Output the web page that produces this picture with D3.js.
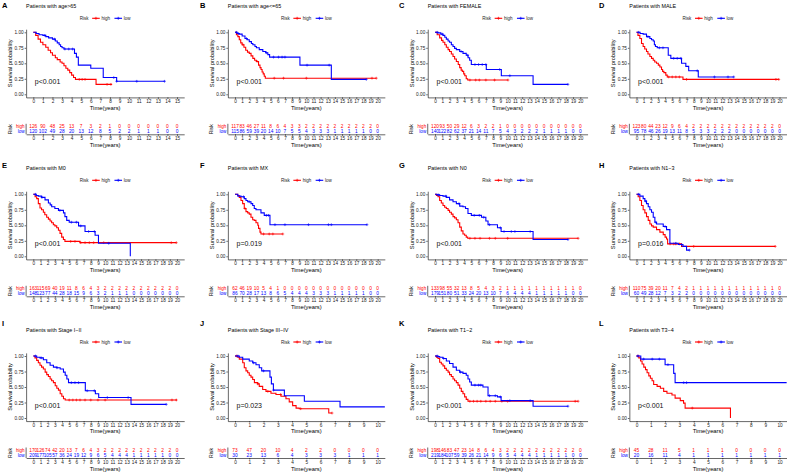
<!DOCTYPE html>
<html>
<head>
<meta charset="utf-8">
<script src="https://cdn.jsdelivr.net/npm/d3@7"></script>
<style>
  body { margin: 0; background: #fff; }
  svg { display: block; font-family: "Liberation Sans", Arial, sans-serif; }
</style>
</head>
<body>
<div id="chart"></div>
<script>
// panel labels
var panelLetters = ["A", "B", "C", "D", "E", "F", "G", "H", "I", "J", "K", "L"];
var panelTitles = ["Patients with age>65", "Patients with age<=65", "Patients with FEMALE", "Patients with MALE",
                   "Patients with M0", "Patients with MX", "Patients with N0", "Patients with N1\u22123",
                   "Patients with Stage I\u2212II", "Patients with Stage III\u2212IV", "Patients with T1\u22122", "Patients with T3\u22124"];
var pValues = ["p<0.001", "p<0.001", "p<0.001", "p<0.001", "p<0.001", "p=0.019",
               "p<0.001", "p=0.016", "p<0.001", "p=0.023", "p<0.001", "p<0.001"];
var maxYears = [15, 20, 20, 20, 20, 20, 20, 20, 20, 10, 20, 10];
var yTicks = [0, 0.25, 0.5, 0.75, 1];

// survival curves, [time, probability] steps, last point = end of follow-up
var highCurves = [
  [[0,1],[0.25,0.95],[0.5,0.89],[0.75,0.84],[1,0.8],[1.3,0.76],[1.55,0.71],[1.8,0.67],[2,0.63],[2.3,0.59],[2.5,0.56],[2.8,0.52],[3,0.5],[3.2,0.46],[3.4,0.42],[3.6,0.39],[3.8,0.35],[4,0.31],[4.2,0.27],[4.4,0.24],[6.55,0.16],[8.2,0.16]],
  [[0,1],[0.2,0.96],[0.4,0.93],[0.6,0.88],[0.8,0.83],[1,0.8],[1.25,0.76],[1.5,0.71],[1.75,0.68],[2,0.66],[2.25,0.62],[2.5,0.58],[2.75,0.55],[3,0.53],[3.3,0.47],[3.5,0.43],[3.65,0.4],[3.8,0.36],[3.95,0.33],[4.1,0.29],[4.25,0.26],[19.8,0.26]],
  [[0,1],[0.3,0.96],[0.64,0.91],[0.9,0.87],[1.1,0.84],[1.35,0.8],[1.56,0.76],[1.8,0.72],[2,0.69],[2.25,0.65],[2.48,0.61],[2.7,0.57],[2.94,0.53],[3.2,0.48],[3.4,0.43],[3.6,0.39],[3.76,0.37],[3.95,0.33],[4.1,0.3],[4.3,0.25],[4.5,0.23],[10.05,0.23]],
  [[0,1],[0.2,0.95],[0.47,0.9],[0.7,0.82],[0.93,0.77],[1.15,0.73],[1.4,0.69],[1.6,0.65],[1.87,0.61],[2.1,0.58],[2.34,0.55],[2.55,0.52],[2.8,0.5],[3.05,0.47],[3.27,0.44],[3.5,0.4],[3.65,0.37],[3.83,0.35],[4.1,0.31],[4.3,0.28],[6.5,0.24],[19.9,0.24]],
  [[0,1],[0.25,0.96],[0.47,0.93],[0.7,0.85],[0.93,0.78],[1.15,0.75],[1.4,0.71],[1.6,0.67],[1.86,0.63],[2.1,0.6],[2.33,0.57],[2.55,0.54],[2.79,0.51],[3,0.49],[3.26,0.46],[3.5,0.42],[3.72,0.37],[3.95,0.31],[4.19,0.27],[4.4,0.24],[6.5,0.22],[19.9,0.22]],
  [[0,1],[0.37,0.98],[0.6,0.95],[0.84,0.9],[1.07,0.85],[1.3,0.77],[1.54,0.72],[1.78,0.7],[2,0.68],[2.24,0.63],[2.48,0.59],[2.7,0.58],[2.94,0.54],[3.2,0.5],[3.3,0.45],[3.5,0.39],[3.64,0.36],[6.7,0.36]],
  [[0,1],[0.2,0.98],[0.41,0.96],[0.64,0.9],[0.87,0.86],[1.1,0.82],[1.33,0.79],[1.56,0.77],[1.8,0.74],[2,0.71],[2.25,0.68],[2.48,0.64],[2.7,0.62],[2.94,0.59],[3.17,0.54],[3.4,0.47],[3.62,0.41],[3.85,0.36],[4.08,0.34],[4.3,0.31],[4.5,0.29],[19.7,0.29]],
  [[0,1],[0.23,0.96],[0.47,0.9],[0.7,0.82],[0.93,0.75],[1.17,0.7],[1.4,0.64],[1.64,0.58],[1.87,0.52],[2.1,0.49],[2.34,0.47],[2.8,0.43],[3.27,0.39],[3.74,0.35],[4,0.31],[4.2,0.28],[4.35,0.2],[6.3,0.16],[19.4,0.16]],
  [[0,1],[0.23,0.97],[0.47,0.93],[0.7,0.89],[0.93,0.85],[1.15,0.82],[1.4,0.79],[1.65,0.74],[1.87,0.7],[2.1,0.67],[2.34,0.63],[2.55,0.6],[2.8,0.57],[3.05,0.52],[3.27,0.48],[3.5,0.45],[3.74,0.39],[3.97,0.35],[4.2,0.31],[4.44,0.29],[20,0.29]],
  [[0,1],[0.19,0.98],[0.3,0.95],[0.54,0.89],[0.65,0.81],[0.77,0.76],[0.89,0.73],[1,0.69],[1.12,0.66],[1.24,0.62],[1.36,0.57],[1.59,0.55],[1.7,0.51],[1.94,0.46],[2.17,0.43],[2.52,0.4],[2.87,0.38],[3.22,0.35],[3.57,0.31],[3.8,0.26],[4.04,0.2],[4.28,0.16],[4.5,0.15],[6.57,0.08],[6.8,0.08]],
  [[0,1],[0.2,0.98],[0.41,0.96],[0.64,0.9],[0.87,0.87],[1.1,0.84],[1.33,0.8],[1.56,0.77],[1.8,0.74],[2,0.7],[2.25,0.67],[2.48,0.63],[2.7,0.6],[2.94,0.57],[3.17,0.53],[3.4,0.48],[3.62,0.43],[3.85,0.39],[4.08,0.34],[4.3,0.3],[4.54,0.27],[19.7,0.27]],
  [[0,1],[0.16,0.97],[0.28,0.92],[0.39,0.87],[0.51,0.82],[0.63,0.78],[0.74,0.73],[0.86,0.68],[0.97,0.64],[1.09,0.6],[1.2,0.54],[1.44,0.51],[1.67,0.48],[1.9,0.43],[2.13,0.4],[2.48,0.37],[2.7,0.32],[3.06,0.28],[3.29,0.24],[3.4,0.16],[6.57,0]]
];
var lowCurves = [
  [[0,1],[0.3,0.98],[0.6,0.96],[1,0.95],[1.3,0.93],[1.6,0.91],[2,0.89],[2.3,0.86],[2.5,0.83],[2.7,0.8],[2.85,0.77],[3,0.75],[3.2,0.73],[4.3,0.66],[4.5,0.6],[4.7,0.47],[6,0.42],[7.3,0.27],[8.7,0.21],[13.7,0.21]],
  [[0,1],[0.3,0.98],[0.6,0.97],[1,0.94],[1.4,0.9],[1.7,0.88],[2,0.85],[2.3,0.82],[2.5,0.8],[2.8,0.77],[3,0.75],[3.4,0.72],[3.9,0.69],[4.3,0.67],[4.6,0.64],[4.85,0.6],[9.1,0.47],[13.5,0.24],[18.4,0.24]],
  [[0,1],[0.4,0.99],[0.8,0.97],[1.1,0.95],[1.35,0.92],[1.56,0.89],[1.8,0.86],[2,0.84],[2.25,0.8],[2.48,0.77],[2.7,0.74],[2.94,0.72],[3.4,0.69],[3.85,0.66],[4.3,0.63],[4.55,0.59],[4.77,0.55],[5,0.48],[7.06,0.4],[9.13,0.3],[13.5,0.16],[18.3,0.16]],
  [[0,1],[0.5,0.98],[0.93,0.97],[1.4,0.93],[1.87,0.9],[2.1,0.88],[2.34,0.86],[2.5,0.8],[2.65,0.77],[2.9,0.75],[4.44,0.63],[4.8,0.58],[6.3,0.5],[6.9,0.45],[7.3,0.38],[8.64,0.28],[13.6,0.28]],
  [[0,1],[0.4,0.98],[0.7,0.97],[1.16,0.95],[1.63,0.91],[2.1,0.86],[2.35,0.83],[2.56,0.8],[3,0.77],[3.5,0.74],[4.2,0.7],[4.4,0.64],[4.65,0.58],[5,0.55],[6.3,0.49],[7.2,0.4],[8.6,0.34],[9.07,0.21],[13.5,0]],
  [[0,1],[0.4,0.97],[0.84,0.96],[1.3,0.93],[1.54,0.9],[1.78,0.88],[2.24,0.85],[2.48,0.82],[2.7,0.77],[2.94,0.75],[3.64,0.7],[4.1,0.66],[4.9,0.51],[18.5,0.51]],
  [[0,1],[0.3,0.99],[0.64,0.98],[1.1,0.97],[1.56,0.95],[2,0.91],[2.48,0.88],[2.94,0.85],[3.4,0.81],[3.85,0.8],[4.2,0.77],[4.54,0.69],[5,0.66],[6.4,0.63],[7,0.57],[7.3,0.51],[8.6,0.46],[9.1,0.4],[13.5,0.27],[18.3,0.27]],
  [[0,1],[0.47,0.97],[0.93,0.93],[1.17,0.89],[1.4,0.85],[1.64,0.8],[1.87,0.75],[2.1,0.71],[2.34,0.63],[2.57,0.55],[2.8,0.52],[3.74,0.48],[4.2,0.43],[4.67,0.21],[5.84,0.19],[6.5,0.16],[7,0.1],[7.4,0.1]],
  [[0,1],[0.47,0.98],[0.93,0.97],[1.4,0.94],[1.87,0.89],[2.34,0.85],[2.8,0.82],[3.27,0.81],[3.74,0.79],[4.2,0.74],[4.44,0.69],[4.67,0.63],[4.9,0.57],[7.24,0.44],[8.64,0.39],[9.1,0.33],[13.6,0.22],[18.5,0.22]],
  [[0,1],[0.3,0.98],[0.54,0.95],[1,0.92],[1.24,0.89],[1.47,0.86],[1.7,0.81],[1.87,0.76],[2.45,0.66],[2.55,0.55],[2.69,0.45],[3.46,0.36],[4.86,0.27],[7.36,0.18],[12,0.18]],
  [[0,1],[0.4,0.99],[0.64,0.98],[1.1,0.96],[1.56,0.92],[2,0.88],[2.48,0.82],[2.94,0.77],[3.4,0.74],[3.85,0.72],[4.3,0.69],[4.54,0.63],[4.77,0.58],[5,0.53],[6.6,0.5],[7.3,0.36],[8.6,0.34],[9.1,0.28],[13.5,0.19],[18.3,0.19]],
  [[0,1],[0.3,0.95],[2,0.86],[2.6,0.72],[2.7,0.57],[12,0.57]]
];

// censored times
var highCensor = [
  [4.8, 5.1, 5.4, 7.7, 8.1], [1.1, 3.1, 5.5, 6.8, 10, 19.2, 19.8], [4.8, 5.6, 6.1, 7, 8.2, 10.05],
  [4.5, 5, 5.5, 6, 7, 19.5, 19.9], [5.2, 5.8, 6.6, 7.2, 7.8, 8.4, 9.8, 19.2, 19.9], [1.4, 4, 4.8, 5.3, 6.7],
  [4.8, 5.5, 6.2, 7.5, 8.3, 10, 19.7], [4.7, 5.2, 5.5, 6, 8, 19.4], [5, 5.5, 6, 6.5, 7.2, 8, 9, 10, 19.3, 19.9],
  [0.1, 1.6, 2.3, 3.2, 4.6, 6.8], [4.8, 5.3, 5.8, 6.3, 7, 7.6, 8.3, 9.2, 10, 19.3, 19.7], [0.1, 3.9]
];
var lowCensor = [
  [1.2, 2.2, 3.3, 3.7, 4.1, 8.4, 8.7, 10.8, 13.7], [0.2, 0.5, 1.6, 4.4, 5.4, 6.1, 6.6, 7, 10.1, 13.2, 18.4],
  [0.3, 1, 3.6, 4.5, 5.5, 6, 6.5, 7, 8.9, 10.3, 18.3], [0.3, 1.6, 3.2, 3.7, 5.2, 5.7, 6.2, 8.5, 10.9, 12.8, 13.6],
  [0.3, 1.2, 3.7, 5.3, 6, 6.6, 7.7, 8.5, 10.5], [1.2, 2, 4.4, 4.7, 5.6, 7, 10.3, 13.1, 13.5, 18.5],
  [0.5, 1.5, 3.3, 5.4, 6.1, 6.7, 7.5, 9, 9.5, 10.5, 11, 13.1, 18.3], [0.3, 1.3, 2.7, 4, 5.5, 6.3, 7.4],
  [0.3, 1.1, 3.3, 5.3, 5.8, 6.3, 7.5, 8.5, 10.3, 13.2, 18.5], [0.2, 1.3, 2, 2.7],
  [0.3, 1.2, 3.5, 5.5, 6, 6.3, 7.5, 8.3, 9, 10.3, 13.1, 18.3], [0.1, 0.5, 1.1, 1.6, 2.2, 3.3, 3.5]
];

// numbers at risk, one value per year tick
var highAtRisk = [
  [126, 90, 48, 25, 13, 7, 3, 2, 1, 0, 0, 0, 0, 0, 0, 0],
  [117, 83, 46, 27, 11, 8, 6, 4, 3, 3, 2, 2, 2, 2, 2, 2, 2, 2, 2, 2, 0],
  [120, 93, 50, 29, 12, 6, 3, 2, 2, 1, 0, 0, 0, 0, 0, 0, 0, 0, 0, 0, 0],
  [123, 80, 44, 23, 12, 9, 6, 4, 2, 2, 2, 2, 2, 2, 2, 2, 2, 2, 2, 2, 0],
  [163, 115, 69, 40, 19, 11, 8, 6, 4, 3, 2, 2, 2, 2, 2, 2, 2, 2, 2, 2, 0],
  [62, 46, 19, 10, 5, 4, 1, 0, 0, 0, 0, 0, 0, 0, 0, 0, 0, 0, 0, 0, 0],
  [133, 98, 55, 32, 13, 8, 5, 4, 3, 2, 1, 1, 1, 1, 1, 1, 1, 1, 1, 1, 0],
  [110, 75, 39, 20, 11, 7, 4, 2, 1, 1, 1, 1, 1, 1, 1, 1, 1, 1, 1, 1, 0],
  [170, 126, 74, 42, 20, 13, 7, 6, 4, 3, 2, 2, 2, 2, 2, 2, 2, 2, 2, 2, 0],
  [73, 47, 20, 10, 4, 2, 2, 0, 0, 0, 0],
  [198, 146, 83, 47, 23, 14, 8, 6, 4, 3, 2, 2, 2, 2, 2, 2, 2, 2, 2, 2, 0],
  [45, 28, 11, 5, 1, 1, 1, 0, 0, 0, 0]
];
var lowAtRisk = [
  [120, 102, 49, 28, 20, 13, 12, 8, 5, 2, 2, 1, 1, 1, 0, 0],
  [115, 86, 59, 39, 20, 14, 10, 7, 5, 5, 4, 3, 3, 3, 1, 1, 1, 1, 1, 0, 0],
  [140, 122, 82, 62, 37, 21, 14, 11, 7, 5, 4, 3, 2, 2, 2, 1, 1, 1, 1, 0, 0],
  [95, 78, 46, 26, 19, 13, 11, 8, 5, 3, 3, 2, 2, 2, 0, 0, 0, 0, 0, 0, 0],
  [148, 123, 77, 44, 28, 18, 15, 9, 6, 3, 2, 1, 1, 1, 0, 0, 0, 0, 0, 0, 0],
  [86, 70, 28, 17, 13, 8, 6, 5, 4, 4, 4, 3, 3, 3, 1, 1, 1, 1, 1, 0, 0],
  [179, 151, 80, 51, 33, 24, 20, 13, 10, 7, 6, 4, 4, 4, 1, 1, 1, 1, 1, 0, 0],
  [60, 49, 28, 12, 7, 3, 2, 2, 0, 0, 0, 0, 0, 0, 0, 0, 0, 0, 0, 0, 0],
  [209, 177, 105, 57, 36, 24, 19, 12, 9, 6, 5, 4, 4, 4, 1, 1, 1, 1, 1, 0, 0],
  [30, 23, 13, 6, 4, 3, 3, 3, 1, 1, 1],
  [219, 184, 107, 59, 39, 26, 21, 14, 9, 6, 5, 4, 4, 4, 1, 1, 1, 1, 1, 0, 0],
  [20, 16, 11, 4, 1, 1, 1, 1, 1, 1, 1]
];

// layout
var width = 787;
var height = 472;
var colTick0 = [33.3, 235, 435, 636.5];     // x of year 0
var colTickEnd = [177, 377.7, 580.3, 779.5]; // x of last year tick
var colLetter = [2, 200, 399, 599];
var rowBase = [32.3, 194.3, 356];            // y of probability 1.00
var rowLetter = [5, 165, 323];
var plotH = 62;
var highColor = "#FF0000";
var lowColor = "#0000FF";
var textColor = "#222";

var svg = d3.select("#chart")
            .append("svg")
            .attr("width", width)
            .attr("height", height);

// value of a step curve at time t
function survAt(curve, t) {
  var s = curve[0][1];
  curve.forEach(function(p) { if (p[0] <= t) s = p[1]; });
  return s;
}

function styleAxis(g, size) {
  g.attr("font-size", size)
   .attr("font-family", null);
  g.selectAll("path, line")
   .attr("stroke", "#000")
   .attr("stroke-width", 0.6);
  g.selectAll("text")
   .attr("fill", textColor);
}

function plusPath(r) {
  return "M" + (-r) + ",0H" + r + "M0," + (-r) + "V" + r;
}

function drawPanel(i) {
  var col = i % 4;
  var row = Math.floor(i / 4);
  var M = maxYears[i];
  var t0 = colTick0[col];
  var t1 = colTickEnd[col];
  var base = rowBase[row];
  var padX = 0.05 * (t1 - t0);
  var padY = 0.05 * plotH;

  var xScale = d3.scaleLinear()
                 .domain([-0.05 * M, 1.05 * M])
                 .range([t0 - padX, t1 + padX]);
  var yScale = d3.scaleLinear()
                 .domain([-0.05, 1.05])
                 .range([base + plotH + padY, base - padY]);
  var xLeft = xScale.range()[0];
  var xRight = xScale.range()[1];
  var cx = (t0 + t1) / 2;
  var years = d3.range(0, M + 1);

  var g = svg.append("g");

  // panel letter and title
  g.append("text")
   .text(panelLetters[i])
   .attr("x", colLetter[col])
   .attr("y", rowLetter[row])
   .attr("dy", "0.35em")
   .attr("font-size", 7.5)
   .attr("font-weight", "bold")
   .attr("fill", "#000");
  g.append("text")
   .text(panelTitles[i])
   .attr("x", xLeft)
   .attr("y", base - 26)
   .attr("dy", "0.35em")
   .attr("font-size", 5.4)
   .attr("fill", "#000");

  // legend
  var ly = base - 14;
  g.append("text")
   .text("Risk")
   .attr("x", cx - 25.4)
   .attr("y", ly)
   .attr("dy", "0.35em")
   .attr("font-size", 4.5)
   .attr("fill", textColor);
  [[cx - 13, highColor, "high"], [cx + 9.3, lowColor, "low"]].forEach(function(k) {
    g.append("line")
     .attr("x1", k[0]).attr("x2", k[0] + 7.6)
     .attr("y1", ly).attr("y2", ly)
     .attr("stroke", k[1])
     .attr("stroke-width", 1.1);
    g.append("path")
     .attr("d", plusPath(1.5))
     .attr("transform", "translate(" + (k[0] + 3.8) + "," + ly + ")")
     .attr("stroke", k[1])
     .attr("stroke-width", 0.7);
    g.append("text")
     .text(k[2])
     .attr("x", k[0] + 9.3)
     .attr("y", ly)
     .attr("dy", "0.35em")
     .attr("font-size", 4.5)
     .attr("fill", textColor);
  });

  // axes of the survival plot
  var xAxis = g.append("g")
               .attr("transform", "translate(0," + yScale.range()[0] + ")")
               .call(d3.axisBottom(xScale).tickValues(years).tickSize(1.5).tickSizeOuter(0).tickPadding(0.8));
  styleAxis(xAxis, 4.7);
  var yAxis = g.append("g")
               .attr("transform", "translate(" + xLeft + ",0)")
               .call(d3.axisLeft(yScale).tickValues(yTicks).tickFormat(d3.format(".2f"))
                       .tickSize(1.5).tickSizeOuter(0).tickPadding(1));
  styleAxis(yAxis, 4.7);

  g.append("text")
   .text("Time(years)")
   .attr("x", cx)
   .attr("y", base + 75.4)
   .attr("dy", "0.35em")
   .attr("text-anchor", "middle")
   .attr("font-size", 5.8)
   .attr("fill", "#000");
  g.append("text")
   .text("Survival probability")
   .attr("transform", "translate(" + (t0 - 23.5) + "," + (base + 31) + ") rotate(-90)")
   .attr("dy", "0.35em")
   .attr("text-anchor", "middle")
   .attr("font-size", 5.7)
   .attr("fill", "#000");

  // curves, clipped to the panel
  var clipId = "clip" + i;
  g.append("clipPath")
   .attr("id", clipId)
   .append("rect")
   .attr("x", xLeft)
   .attr("y", yScale.range()[1])
   .attr("width", xRight - xLeft)
   .attr("height", yScale.range()[0] - yScale.range()[1]);
  var plot = g.append("g")
              .attr("clip-path", "url(#" + clipId + ")");
  var line = d3.line()
               .x(function(d) { return xScale(d[0]); })
               .y(function(d) { return yScale(d[1]); })
               .curve(d3.curveStepAfter);
  [[highCurves[i], highCensor[i], highColor], [lowCurves[i], lowCensor[i], lowColor]].forEach(function(s) {
    plot.append("path")
        .datum(s[0])
        .attr("fill", "none")
        .attr("stroke", s[2])
        .attr("stroke-width", 1.1)
        .attr("d", line);
    plot.selectAll(null)
        .data(s[1])
        .enter().append("path")
        .attr("d", plusPath(1.4))
        .attr("transform", function(t) {
          return "translate(" + xScale(t) + "," + yScale(survAt(s[0], t)) + ")";
        })
        .attr("stroke", s[2])
        .attr("stroke-width", 0.6);
  });

  // p value
  g.append("text")
   .text(pValues[i])
   .attr("x", t0 + 1.5)
   .attr("y", yScale(0.2))
   .attr("dy", "0.35em")
   .attr("font-size", 7)
   .attr("fill", "#111");

  // risk table
  var rowY = [base + 94.4, base + 99.4];
  var tableBottom = base + 102;
  [[highAtRisk[i], highColor, "high"], [lowAtRisk[i], lowColor, "low"]].forEach(function(r, k) {
    g.selectAll(null)
     .data(r[0])
     .enter().append("text")
     .text(function(d) { return d; })
     .attr("x", function(d, j) { return xScale(years[j]); })
     .attr("y", rowY[k])
     .attr("dy", "0.35em")
     .attr("text-anchor", "middle")
     .attr("font-size", 4.8)
     .attr("fill", r[1]);
    g.append("text")
     .text(r[2])
     .attr("x", xLeft - 1.5)
     .attr("y", rowY[k])
     .attr("dy", "0.35em")
     .attr("text-anchor", "end")
     .attr("font-size", 4.6)
     .attr("fill", r[1]);
  });
  g.append("line")
   .attr("x1", xLeft).attr("x2", xLeft)
   .attr("y1", base + 91.5).attr("y2", tableBottom)
   .attr("stroke", "#000")
   .attr("stroke-width", 0.6);
  var tAxis = g.append("g")
               .attr("transform", "translate(0," + tableBottom + ")")
               .call(d3.axisBottom(xScale).tickValues(years).tickSize(1.5).tickSizeOuter(0).tickPadding(0.8));
  styleAxis(tAxis, 4.7);
  g.append("text")
   .text("Time(years)")
   .attr("x", cx)
   .attr("y", base + 112.7)
   .attr("dy", "0.35em")
   .attr("text-anchor", "middle")
   .attr("font-size", 5.8)
   .attr("fill", "#000");
  g.append("text")
   .text("Risk")
   .attr("transform", "translate(" + (t0 - 23.5) + "," + (base + 97) + ") rotate(-90)")
   .attr("dy", "0.35em")
   .attr("text-anchor", "middle")
   .attr("font-size", 5.2)
   .attr("fill", "#000");
}

panelLetters.forEach(function(letter, i) { drawPanel(i); });
</script>
</body>
</html>
